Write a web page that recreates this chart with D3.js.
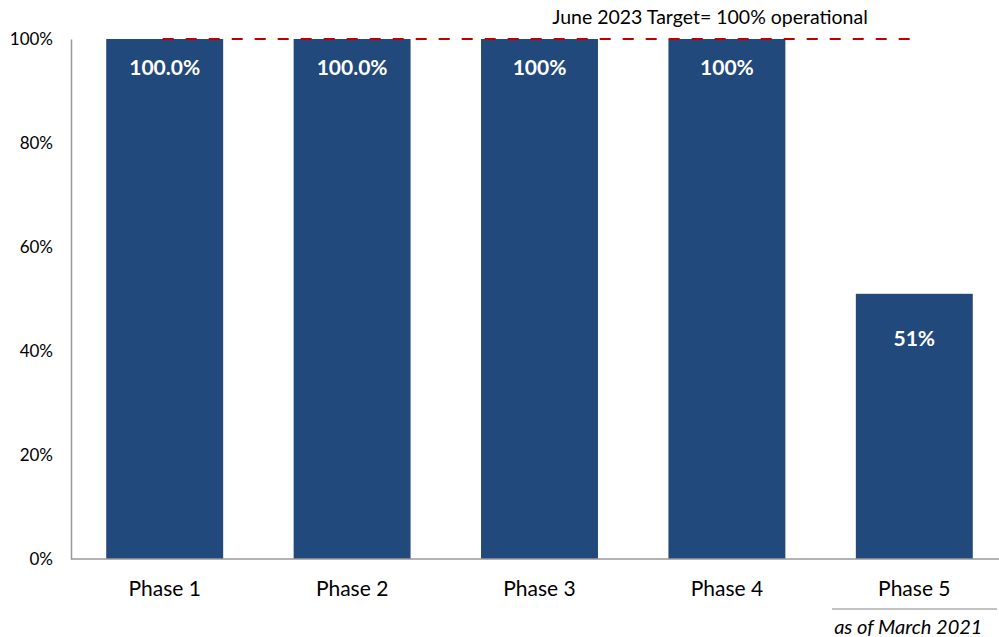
<!DOCTYPE html>
<html>
<head>
<meta charset="utf-8">
<script src="https://cdn.jsdelivr.net/npm/d3@7"></script>
<style>
  html, body { margin: 0; padding: 0; background: #fff; }
  svg { display: block; font-family: Lato, "Noto Sans", sans-serif; }
</style>
</head>
<body>
<svg id="chart" width="999" height="637"></svg>
<script>
// Share of each phase that is operational
const phases = ["Phase 1", "Phase 2", "Phase 3", "Phase 4", "Phase 5"];
const operational = [100, 100, 100, 100, 51];
const valueLabels = ["100.0%", "100.0%", "100%", "100%", "51%"];
const yTicks = [0, 20, 40, 60, 80, 100];
const target = 100;
const targetLabel = "June 2023 Target= 100% operational";
const noteLabel = "as of March 2021";

const font = "Lato, 'Noto Sans', sans-serif";
const svg = d3.select("#chart");
const margin = { top: 39, left: 71, bottom: 559, right: 1008 };

const x = d3.scaleBand()
  .domain(phases)
  .range([margin.left, margin.right])
  .paddingInner(0.376)
  .paddingOuter(0.188);

const y = d3.scaleLinear()
  .domain([0, 100])
  .range([margin.bottom, margin.top]);

const barColor = "#22497b";

// bars
svg.append("g")
  .selectAll("rect")
  .data(phases)
  .join("rect")
  .attr("x", d => x(d))
  .attr("width", x.bandwidth())
  .attr("y", (d, i) => y(operational[i]))
  .attr("height", (d, i) => y(0) - y(operational[i]))
  .attr("fill", barColor);

// value labels inside bars
svg.append("g")
  .selectAll("text")
  .data(phases)
  .join("text")
  .attr("x", d => x(d) + x.bandwidth() / 2)
  .attr("y", (d, i) => y(operational[i]) + (i === phases.length - 1 ? 45 : 28))
  .attr("dy", "0.36em")
  .attr("text-anchor", "middle")
  .attr("fill", "#fff")
  .attr("font-weight", "bold")
  .attr("font-size", 21)
  .text((d, i) => valueLabels[i]);

// y axis
const yAxis = svg.append("g")
  .attr("transform", `translate(${margin.left},0)`)
  .call(d3.axisLeft(y).tickValues(yTicks).tickSize(0).tickPadding(18)
    .tickFormat(d => d + "%"));
yAxis.select(".domain").attr("stroke", "#999").attr("stroke-width", 1.5);
yAxis.selectAll("text").attr("font-size", 17).attr("fill", "#000")
  .attr("font-family", font);

// x axis
const xAxis = svg.append("g")
  .attr("transform", `translate(0,${margin.bottom})`)
  .call(d3.axisBottom(x).tickSize(0).tickPadding(22));
xAxis.select(".domain").attr("d", `M${margin.left},0H999`)
  .attr("stroke", "#999").attr("stroke-width", 1.5);
xAxis.selectAll("text").attr("font-size", 21).attr("fill", "#000")
  .attr("font-family", font);

// target line
const first = phases[0], last = phases[phases.length - 1];
svg.append("line")
  .attr("x1", x(first) + x.bandwidth() / 2 - 2)
  .attr("x2", x(last) + x.bandwidth() / 2)
  .attr("y1", y(target))
  .attr("y2", y(target))
  .attr("stroke", "#c00000")
  .attr("stroke-width", 2)
  .attr("stroke-dasharray", "11,12");

svg.append("text")
  .attr("x", 710)
  .attr("y", y(target) - 15)
  .attr("text-anchor", "middle")
  .attr("font-size", 19.5)
  .attr("fill", "#000")
  .text(targetLabel);

// note under the last phase
const lastCx = x(last) + x.bandwidth() / 2;
svg.append("line")
  .attr("x1", 832).attr("x2", 997)
  .attr("y1", 609).attr("y2", 609)
  .attr("stroke", "#888").attr("stroke-width", 1.2);
svg.append("text")
  .attr("x", lastCx - 6)
  .attr("y", 634)
  .attr("text-anchor", "middle")
  .attr("font-style", "italic")
  .attr("font-size", 20)
  .attr("fill", "#000")
  .text(noteLabel);
</script>
</body>
</html>
